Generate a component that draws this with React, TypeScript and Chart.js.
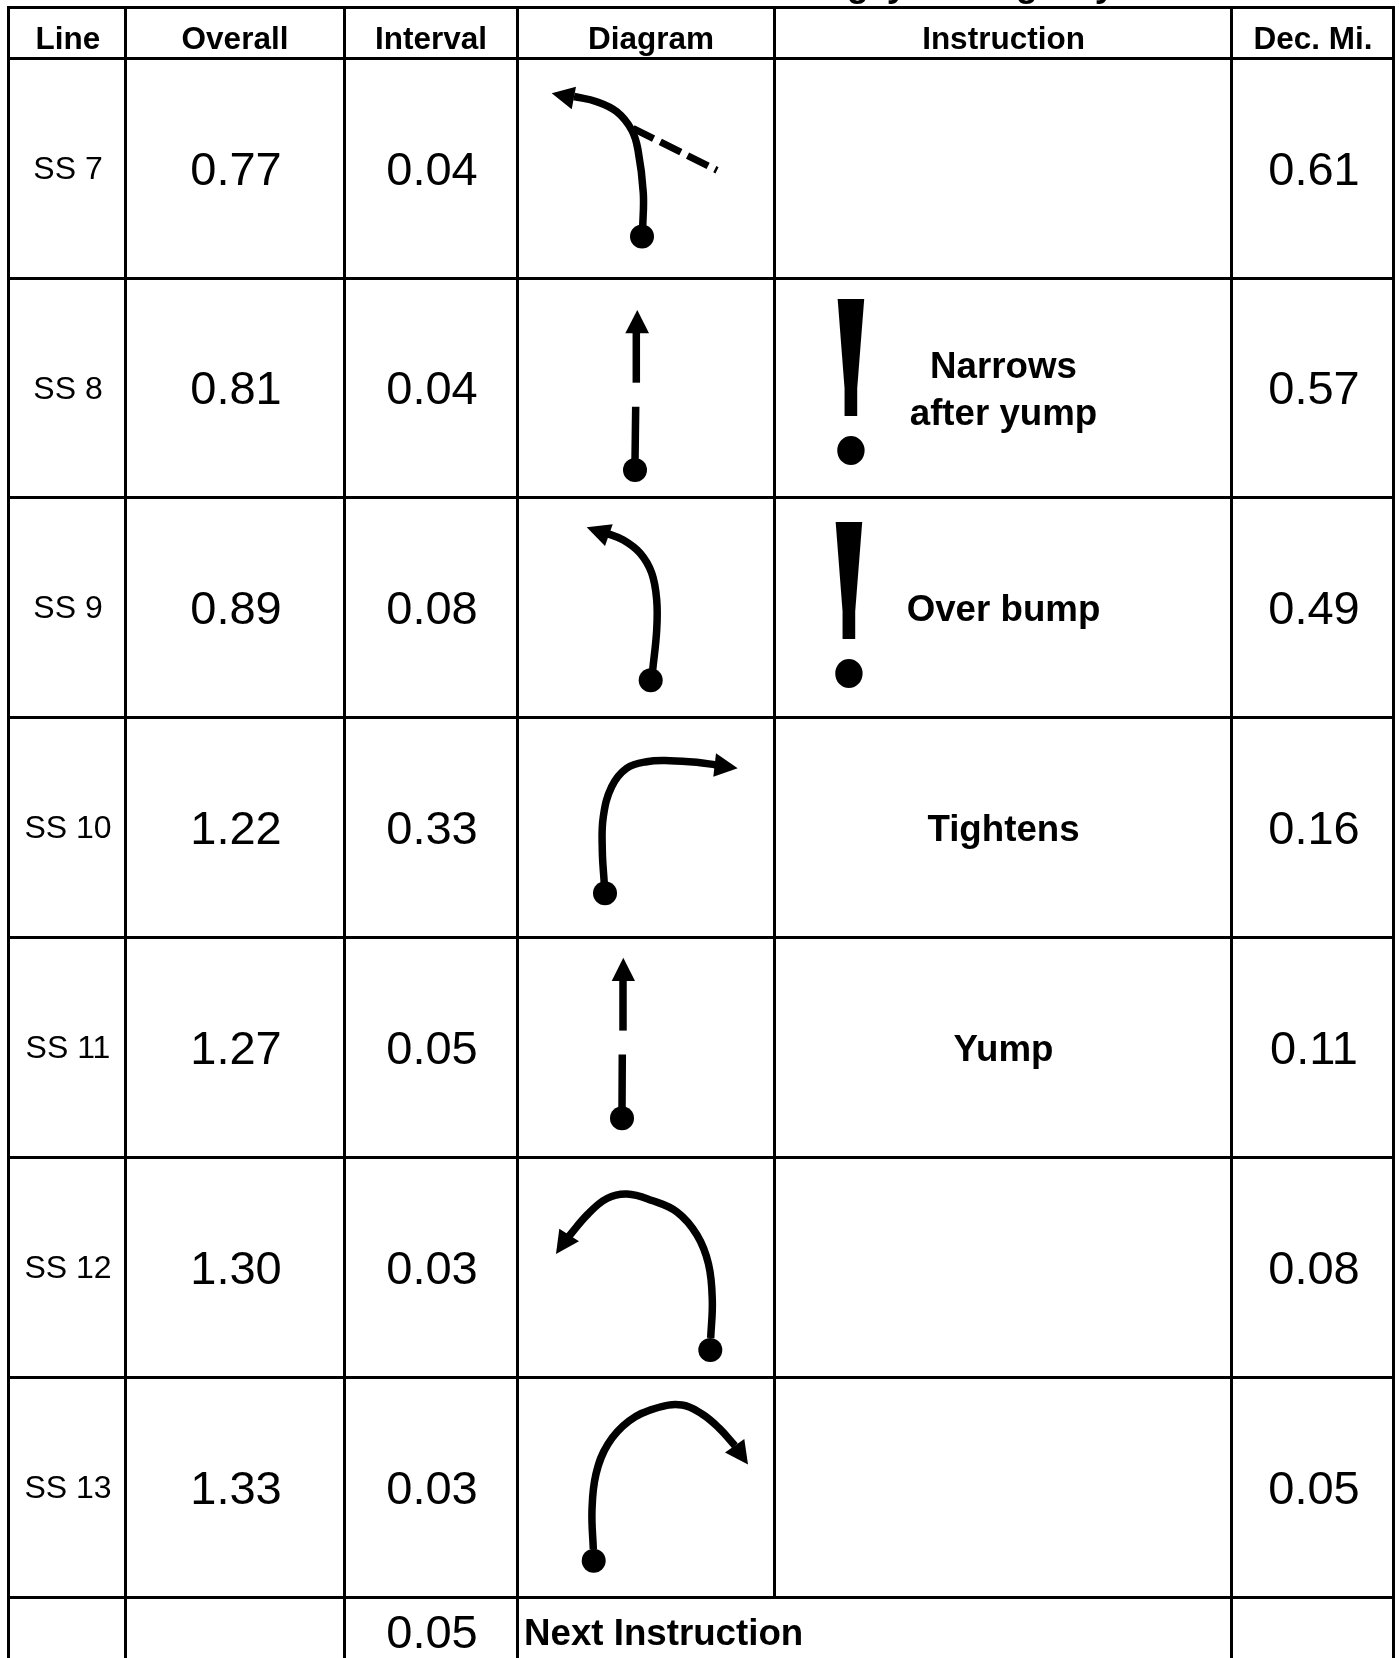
import React, { useEffect, useRef } from "react";
import { Chart, registerables } from "chart.js";

Chart.register(...registerables);

const WIDTH = 1399;
const HEIGHT = 1658;

// table structure
const columnEdges = [8.5, 125.5, 344.5, 517.5, 774.5, 1231.5, 1393.5];
const rowEdges = [7.5, 58.5, 278.5, 497.5, 717.5, 937.5, 1157.5, 1377.5, 1597.5, 1658];

// table content
const headers = ["Line", "Overall", "Interval", "Diagram", "Instruction", "Dec. Mi."];
const headerCentres = [68, 235, 431, 651, 1003.5, 1313];
const lineLabels = ["SS 7", "SS 8", "SS 9", "SS 10", "SS 11", "SS 12", "SS 13"];
const overall = ["0.77", "0.81", "0.89", "1.22", "1.27", "1.30", "1.33"];
const interval = ["0.04", "0.04", "0.08", "0.33", "0.05", "0.03", "0.03"];
const decMi = ["0.61", "0.57", "0.49", "0.16", "0.11", "0.08", "0.05"];
const instructions: string[][] = [[], ["Narrows", "after yump"], ["Over bump"], ["Tightens"], ["Yump"], [], []];
const nextInterval = "0.05";
const nextLabel = "Next Instruction";

// clipped title: only the descenders are visible in the picture
const titleFragments = ["g", "y", "g", "y"];
const titleFragmentX = [858, 897, 1027, 1105];

type P = [number, number];

// diagram start points
const startDots: P[] = [
  [642, 236.5], [635, 470], [650.7, 680.3], [605, 893.3], [622, 1118.3], [710.3, 1350], [593.7, 1560.7],
];

// diagram roads
const roadSS7: P[] = [[642.7, 228], [643.3, 193], [638, 150], [631.7, 130], [616.7, 111.7], [596.7, 101.7], [574, 96.5]];
const roadSS8a: P[] = [[636.3, 330], [636.3, 382.7]];
const roadSS8b: P[] = [[635.7, 406.7], [635, 462]];
const roadSS9: P[] = [[652.7, 670], [656.7, 630], [656.7, 600], [651.7, 573], [640, 553], [623.3, 540], [606, 533]];
const roadSS10: P[] = [[604.3, 884], [602.3, 850], [603.3, 816.7], [611.7, 786.7], [626.7, 768.3], [646.7, 761.7], [670, 760.7], [696.7, 762.3], [716, 765]];
const roadSS11a: P[] = [[623, 978], [623, 1030.6]];
const roadSS11b: P[] = [[622.3, 1054.6], [622, 1110]];
const roadSS12: P[] = [[710.7, 1338], [712.3, 1300], [708.5, 1264], [697, 1235], [677, 1212], [652, 1200.5], [627, 1194], [607, 1198.5], [588, 1214], [568.3, 1237]];
const roadSS13: P[] = [[593.3, 1549], [592, 1510], [596, 1474], [608, 1444], [629, 1421], [655, 1408.5], [682, 1405], [702, 1414], [719, 1428], [735, 1445.7]];
const roads: P[][] = [roadSS7, roadSS8a, roadSS8b, roadSS9, roadSS10, roadSS11a, roadSS11b, roadSS12, roadSS13];

// side road of SS 7
const sideRoadSS7: P[] = [[633, 128.3], [717, 170.3]];

// arrow heads
const arrowHeads: P[][] = [
  [[551.7, 93.3], [576, 86.7], [571.7, 109.3]],
  [[637.3, 310], [625.3, 333.3], [649, 333.3]],
  [[586.7, 527.3], [612.7, 524.3], [605, 546]],
  [[737.7, 768.3], [716, 753.3], [713.3, 776.7]],
  [[623.3, 957.7], [611.7, 980.9], [635, 980.9]],
  [[556, 1254], [559.3, 1228.7], [579, 1241.3]],
  [[748, 1464.6], [744.3, 1439], [725, 1452.4]],
];

// caution marks
const cautionMarks: { x: number; baseline: number }[] = [
  { x: 851, baseline: 462 },
  { x: 849, baseline: 685 },
];

const toXY = (pts: P[]) => pts.map(([x, y]) => ({ x, y }));
const BLACK = "#000";
const FONT = '"Liberation Sans", Arial, sans-serif';

const ruleSet = () => {
  const top = rowEdges[0];
  const bottom = HEIGHT;
  const lastRule = rowEdges[rowEdges.length - 2];
  const sets: P[][] = [];
  columnEdges.forEach((x) => {
    const end = x === columnEdges[4] ? lastRule : bottom;
    sets.push([[x, top - 1.5], [x, end]]);
  });
  rowEdges.slice(0, -1).forEach((y) => {
    sets.push([[columnEdges[0] - 1.5, y], [columnEdges[columnEdges.length - 1] + 1.5, y]]);
  });
  return sets;
};

const tablePlugin = {
  id: "tableText",
  afterDatasetsDraw(chart: any) {
    const ctx: CanvasRenderingContext2D = chart.ctx;
    const sx = chart.scales.x;
    const sy = chart.scales.y;
    const X = (v: number) => sx.getPixelForValue(v);
    const Y = (v: number) => sy.getPixelForValue(v);
    const text = (s: string, x: number, y: number, font: string, align: CanvasTextAlign = "center") => {
      ctx.font = font;
      ctx.textAlign = align;
      ctx.textBaseline = "alphabetic";
      ctx.fillStyle = BLACK;
      ctx.fillText(s, X(x), Y(y));
    };
    ctx.save();
    titleFragments.forEach((s, i) => text(s, titleFragmentX[i], -4, `bold 36.5px ${FONT}`));
    headers.forEach((h, i) => text(h, headerCentres[i], 49, `bold 31.5px ${FONT}`));
    lineLabels.forEach((_, i) => {
      const mid = (rowEdges[i + 1] + rowEdges[i + 2]) / 2;
      text(lineLabels[i], headerCentres[0], mid + 10.5, `32px ${FONT}`);
      text(overall[i], headerCentres[1] + 1, mid + 16, `47px ${FONT}`);
      text(interval[i], headerCentres[2] + 1, mid + 16, `47px ${FONT}`);
      text(decMi[i], headerCentres[5] + 1, mid + 16, `47px ${FONT}`);
      const lines = instructions[i];
      lines.forEach((l, k) => {
        const dy = (k - (lines.length - 1) / 2) * 47;
        text(l, headerCentres[4], mid + dy + 13, `bold 36.7px ${FONT}`);
      });
    });
    text(nextInterval, headerCentres[2] + 1, 1648, `47px ${FONT}`);
    text(nextLabel, 524, 1645, `bold 36.7px ${FONT}`, "left");
    cautionMarks.forEach((m) => {
      ctx.save();
      ctx.translate(X(m.x), Y(m.baseline));
      ctx.scale(0.95, 1);
      ctx.font = '222px "DejaVu Serif"';
      ctx.textAlign = "center";
      ctx.textBaseline = "alphabetic";
      ctx.fillStyle = BLACK;
      ctx.fillText("!", 0, 0);
      ctx.restore();
    });
    ctx.restore();
  },
};

export default function App() {
  const ref = useRef<HTMLCanvasElement>(null);
  useEffect(() => {
    document.body.style.margin = "0";
    const line = (pts: P[], extra: any = {}) => ({
      data: toXY(pts),
      showLine: true,
      borderColor: BLACK,
      backgroundColor: BLACK,
      pointRadius: 0,
      borderCapStyle: "butt",
      ...extra,
    });
    const datasets: any[] = [
      ...ruleSet().map((r) => line(r, { borderWidth: 3 })),
      ...roads.map((r) => line(r, { borderWidth: 7.5, tension: 0.4 })),
      line(sideRoadSS7, { borderWidth: 7, borderDash: [23, 7.5] }),
      ...arrowHeads.map((a) =>
        line(a, { borderWidth: 0, fill: "shape", backgroundColor: BLACK })
      ),
      {
        data: toXY(startDots),
        showLine: false,
        pointRadius: 12,
        pointBorderWidth: 0,
        pointBackgroundColor: BLACK,
      },
    ];
    const chart = new Chart(ref.current!, {
      type: "scatter",
      data: { datasets },
      plugins: [tablePlugin],
      options: {
        animation: false,
        responsive: false,
        devicePixelRatio: 1,
        layout: { padding: 0, autoPadding: false },
        plugins: { legend: { display: false }, tooltip: { enabled: false } },
        events: [],
        scales: {
          x: { type: "linear", display: false, min: 0, max: WIDTH },
          y: { type: "linear", display: false, min: 0, max: HEIGHT, reverse: true },
        },
      },
    } as any);
    return () => chart.destroy();
  }, []);
  return (
    <canvas
      ref={ref}
      width={WIDTH}
      height={HEIGHT}
      style={{ display: "block", width: WIDTH, height: HEIGHT, background: "#fff" }}
    />
  );
}
